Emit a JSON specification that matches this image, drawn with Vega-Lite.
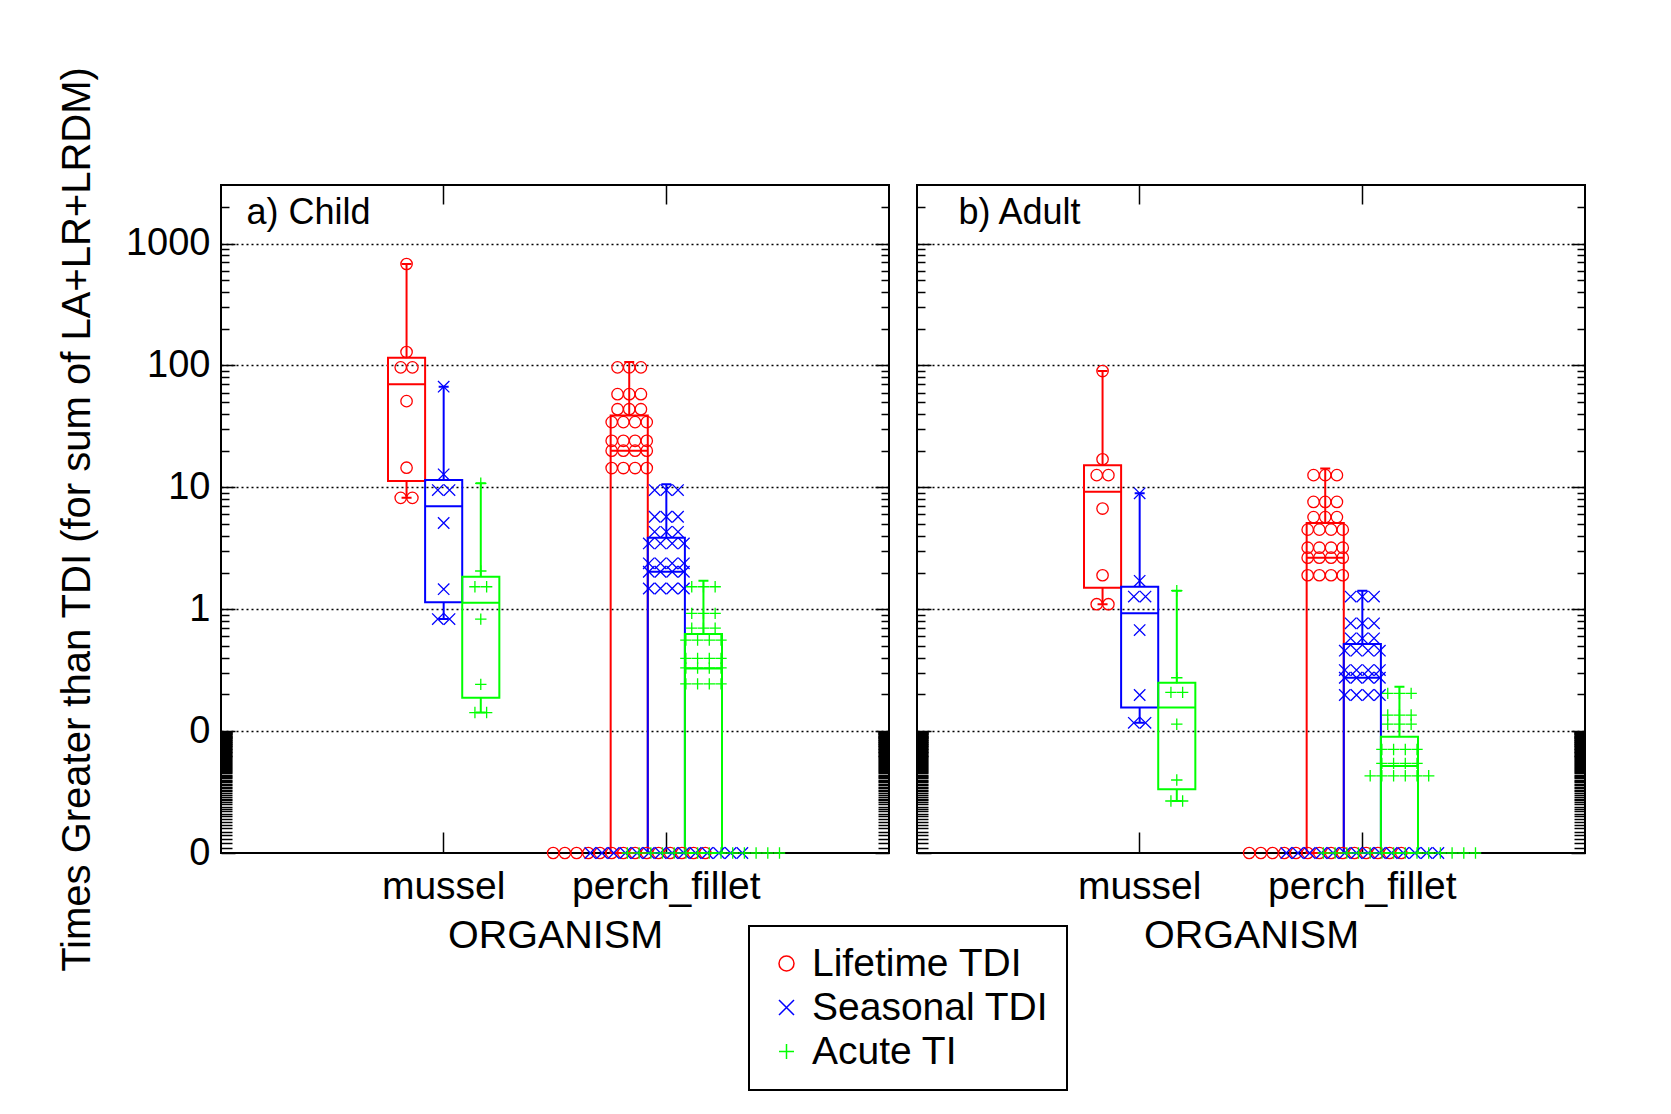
{
  "$schema": "https://vega.github.io/schema/vega-lite/v6.json",
  "padding": {"left": 56, "top": 65, "right": 5, "bottom": 5},
  "background": "white",
  "spacing": 24,
  "datasets": {
    "box": [
      {"panel":"Child","organism":"mussel","series":"Lifetime TDI","min":8.2,"q1":11.3,"median":70.3,"q3":115.6,"max":680},
      {"panel":"Child","organism":"mussel","series":"Seasonal TDI","min":0.83,"q1":1.14,"median":7.0,"q3":11.5,"max":67},
      {"panel":"Child","organism":"mussel","series":"Acute TI","min":0.142,"q1":0.188,"median":1.13,"q3":1.85,"max":10.8},
      {"panel":"Child","organism":"perch_fillet","series":"Lifetime TDI","min":0,"q1":0,"median":20.0,"q3":38.9,"max":107},
      {"panel":"Child","organism":"perch_fillet","series":"Seasonal TDI","min":0,"q1":0,"median":2.03,"q3":3.86,"max":10.6},
      {"panel":"Child","organism":"perch_fillet","series":"Acute TI","min":0,"q1":0,"median":0.327,"q3":0.627,"max":1.71},
      {"panel":"Adult","organism":"mussel","series":"Lifetime TDI","min":1.1,"q1":1.5,"median":9.2,"q3":15.2,"max":90},
      {"panel":"Adult","organism":"mussel","series":"Seasonal TDI","min":0.117,"q1":0.156,"median":0.925,"q3":1.53,"max":8.93},
      {"panel":"Adult","organism":"mussel","series":"Acute TI","min":0.0267,"q1":0.0333,"median":0.156,"q3":0.249,"max":1.42},
      {"panel":"Adult","organism":"perch_fillet","series":"Lifetime TDI","min":0,"q1":0,"median":2.65,"q3":5.1,"max":14.3},
      {"panel":"Adult","organism":"perch_fillet","series":"Seasonal TDI","min":0,"q1":0,"median":0.274,"q3":0.519,"max":1.42},
      {"panel":"Adult","organism":"perch_fillet","series":"Acute TI","min":0,"q1":0,"median":0.0518,"q3":0.090,"max":0.231}
    ],
    "pts": [
      {"panel":"Child","organism":"mussel","series":"Lifetime TDI","value":680},
      {"panel":"Child","organism":"mussel","series":"Lifetime TDI","value":129},
      {"panel":"Child","organism":"mussel","series":"Lifetime TDI","value":96.5},
      {"panel":"Child","organism":"mussel","series":"Lifetime TDI","value":96.5},
      {"panel":"Child","organism":"mussel","series":"Lifetime TDI","value":51},
      {"panel":"Child","organism":"mussel","series":"Lifetime TDI","value":14.5},
      {"panel":"Child","organism":"mussel","series":"Lifetime TDI","value":8.2},
      {"panel":"Child","organism":"mussel","series":"Lifetime TDI","value":8.2},
      {"panel":"Child","organism":"mussel","series":"Seasonal TDI","value":67},
      {"panel":"Child","organism":"mussel","series":"Seasonal TDI","value":12.8},
      {"panel":"Child","organism":"mussel","series":"Seasonal TDI","value":9.5},
      {"panel":"Child","organism":"mussel","series":"Seasonal TDI","value":9.5},
      {"panel":"Child","organism":"mussel","series":"Seasonal TDI","value":5.1},
      {"panel":"Child","organism":"mussel","series":"Seasonal TDI","value":1.46},
      {"panel":"Child","organism":"mussel","series":"Seasonal TDI","value":0.83},
      {"panel":"Child","organism":"mussel","series":"Seasonal TDI","value":0.83},
      {"panel":"Child","organism":"mussel","series":"Acute TI","value":10.8},
      {"panel":"Child","organism":"mussel","series":"Acute TI","value":2.06},
      {"panel":"Child","organism":"mussel","series":"Acute TI","value":1.53},
      {"panel":"Child","organism":"mussel","series":"Acute TI","value":1.53},
      {"panel":"Child","organism":"mussel","series":"Acute TI","value":0.83},
      {"panel":"Child","organism":"mussel","series":"Acute TI","value":0.242},
      {"panel":"Child","organism":"mussel","series":"Acute TI","value":0.142},
      {"panel":"Child","organism":"mussel","series":"Acute TI","value":0.142},
      {"panel":"Child","organism":"perch_fillet","series":"Lifetime TDI","value":96.5},
      {"panel":"Child","organism":"perch_fillet","series":"Lifetime TDI","value":96.5},
      {"panel":"Child","organism":"perch_fillet","series":"Lifetime TDI","value":96.5},
      {"panel":"Child","organism":"perch_fillet","series":"Lifetime TDI","value":58.2},
      {"panel":"Child","organism":"perch_fillet","series":"Lifetime TDI","value":58.2},
      {"panel":"Child","organism":"perch_fillet","series":"Lifetime TDI","value":58.2},
      {"panel":"Child","organism":"perch_fillet","series":"Lifetime TDI","value":43.8},
      {"panel":"Child","organism":"perch_fillet","series":"Lifetime TDI","value":43.8},
      {"panel":"Child","organism":"perch_fillet","series":"Lifetime TDI","value":43.8},
      {"panel":"Child","organism":"perch_fillet","series":"Lifetime TDI","value":34.3},
      {"panel":"Child","organism":"perch_fillet","series":"Lifetime TDI","value":34.3},
      {"panel":"Child","organism":"perch_fillet","series":"Lifetime TDI","value":34.3},
      {"panel":"Child","organism":"perch_fillet","series":"Lifetime TDI","value":34.3},
      {"panel":"Child","organism":"perch_fillet","series":"Lifetime TDI","value":24.1},
      {"panel":"Child","organism":"perch_fillet","series":"Lifetime TDI","value":24.1},
      {"panel":"Child","organism":"perch_fillet","series":"Lifetime TDI","value":24.1},
      {"panel":"Child","organism":"perch_fillet","series":"Lifetime TDI","value":24.1},
      {"panel":"Child","organism":"perch_fillet","series":"Lifetime TDI","value":20.0},
      {"panel":"Child","organism":"perch_fillet","series":"Lifetime TDI","value":20.0},
      {"panel":"Child","organism":"perch_fillet","series":"Lifetime TDI","value":20.0},
      {"panel":"Child","organism":"perch_fillet","series":"Lifetime TDI","value":20.0},
      {"panel":"Child","organism":"perch_fillet","series":"Lifetime TDI","value":14.4},
      {"panel":"Child","organism":"perch_fillet","series":"Lifetime TDI","value":14.4},
      {"panel":"Child","organism":"perch_fillet","series":"Lifetime TDI","value":14.4},
      {"panel":"Child","organism":"perch_fillet","series":"Lifetime TDI","value":14.4},
      {"panel":"Child","organism":"perch_fillet","series":"Lifetime TDI","value":0},
      {"panel":"Child","organism":"perch_fillet","series":"Lifetime TDI","value":0},
      {"panel":"Child","organism":"perch_fillet","series":"Lifetime TDI","value":0},
      {"panel":"Child","organism":"perch_fillet","series":"Lifetime TDI","value":0},
      {"panel":"Child","organism":"perch_fillet","series":"Lifetime TDI","value":0},
      {"panel":"Child","organism":"perch_fillet","series":"Lifetime TDI","value":0},
      {"panel":"Child","organism":"perch_fillet","series":"Lifetime TDI","value":0},
      {"panel":"Child","organism":"perch_fillet","series":"Lifetime TDI","value":0},
      {"panel":"Child","organism":"perch_fillet","series":"Lifetime TDI","value":0},
      {"panel":"Child","organism":"perch_fillet","series":"Lifetime TDI","value":0},
      {"panel":"Child","organism":"perch_fillet","series":"Lifetime TDI","value":0},
      {"panel":"Child","organism":"perch_fillet","series":"Lifetime TDI","value":0},
      {"panel":"Child","organism":"perch_fillet","series":"Lifetime TDI","value":0},
      {"panel":"Child","organism":"perch_fillet","series":"Lifetime TDI","value":0},
      {"panel":"Child","organism":"perch_fillet","series":"Seasonal TDI","value":9.5},
      {"panel":"Child","organism":"perch_fillet","series":"Seasonal TDI","value":9.5},
      {"panel":"Child","organism":"perch_fillet","series":"Seasonal TDI","value":9.5},
      {"panel":"Child","organism":"perch_fillet","series":"Seasonal TDI","value":5.74},
      {"panel":"Child","organism":"perch_fillet","series":"Seasonal TDI","value":5.74},
      {"panel":"Child","organism":"perch_fillet","series":"Seasonal TDI","value":5.74},
      {"panel":"Child","organism":"perch_fillet","series":"Seasonal TDI","value":4.32},
      {"panel":"Child","organism":"perch_fillet","series":"Seasonal TDI","value":4.32},
      {"panel":"Child","organism":"perch_fillet","series":"Seasonal TDI","value":4.32},
      {"panel":"Child","organism":"perch_fillet","series":"Seasonal TDI","value":3.47},
      {"panel":"Child","organism":"perch_fillet","series":"Seasonal TDI","value":3.47},
      {"panel":"Child","organism":"perch_fillet","series":"Seasonal TDI","value":3.47},
      {"panel":"Child","organism":"perch_fillet","series":"Seasonal TDI","value":3.47},
      {"panel":"Child","organism":"perch_fillet","series":"Seasonal TDI","value":2.38},
      {"panel":"Child","organism":"perch_fillet","series":"Seasonal TDI","value":2.38},
      {"panel":"Child","organism":"perch_fillet","series":"Seasonal TDI","value":2.38},
      {"panel":"Child","organism":"perch_fillet","series":"Seasonal TDI","value":2.38},
      {"panel":"Child","organism":"perch_fillet","series":"Seasonal TDI","value":2.03},
      {"panel":"Child","organism":"perch_fillet","series":"Seasonal TDI","value":2.03},
      {"panel":"Child","organism":"perch_fillet","series":"Seasonal TDI","value":2.03},
      {"panel":"Child","organism":"perch_fillet","series":"Seasonal TDI","value":2.03},
      {"panel":"Child","organism":"perch_fillet","series":"Seasonal TDI","value":1.48},
      {"panel":"Child","organism":"perch_fillet","series":"Seasonal TDI","value":1.48},
      {"panel":"Child","organism":"perch_fillet","series":"Seasonal TDI","value":1.48},
      {"panel":"Child","organism":"perch_fillet","series":"Seasonal TDI","value":1.48},
      {"panel":"Child","organism":"perch_fillet","series":"Seasonal TDI","value":0},
      {"panel":"Child","organism":"perch_fillet","series":"Seasonal TDI","value":0},
      {"panel":"Child","organism":"perch_fillet","series":"Seasonal TDI","value":0},
      {"panel":"Child","organism":"perch_fillet","series":"Seasonal TDI","value":0},
      {"panel":"Child","organism":"perch_fillet","series":"Seasonal TDI","value":0},
      {"panel":"Child","organism":"perch_fillet","series":"Seasonal TDI","value":0},
      {"panel":"Child","organism":"perch_fillet","series":"Seasonal TDI","value":0},
      {"panel":"Child","organism":"perch_fillet","series":"Seasonal TDI","value":0},
      {"panel":"Child","organism":"perch_fillet","series":"Seasonal TDI","value":0},
      {"panel":"Child","organism":"perch_fillet","series":"Seasonal TDI","value":0},
      {"panel":"Child","organism":"perch_fillet","series":"Seasonal TDI","value":0},
      {"panel":"Child","organism":"perch_fillet","series":"Seasonal TDI","value":0},
      {"panel":"Child","organism":"perch_fillet","series":"Seasonal TDI","value":0},
      {"panel":"Child","organism":"perch_fillet","series":"Seasonal TDI","value":0},
      {"panel":"Child","organism":"perch_fillet","series":"Acute TI","value":1.53},
      {"panel":"Child","organism":"perch_fillet","series":"Acute TI","value":1.53},
      {"panel":"Child","organism":"perch_fillet","series":"Acute TI","value":1.53},
      {"panel":"Child","organism":"perch_fillet","series":"Acute TI","value":0.925},
      {"panel":"Child","organism":"perch_fillet","series":"Acute TI","value":0.925},
      {"panel":"Child","organism":"perch_fillet","series":"Acute TI","value":0.925},
      {"panel":"Child","organism":"perch_fillet","series":"Acute TI","value":0.70},
      {"panel":"Child","organism":"perch_fillet","series":"Acute TI","value":0.70},
      {"panel":"Child","organism":"perch_fillet","series":"Acute TI","value":0.70},
      {"panel":"Child","organism":"perch_fillet","series":"Acute TI","value":0.559},
      {"panel":"Child","organism":"perch_fillet","series":"Acute TI","value":0.559},
      {"panel":"Child","organism":"perch_fillet","series":"Acute TI","value":0.559},
      {"panel":"Child","organism":"perch_fillet","series":"Acute TI","value":0.559},
      {"panel":"Child","organism":"perch_fillet","series":"Acute TI","value":0.395},
      {"panel":"Child","organism":"perch_fillet","series":"Acute TI","value":0.395},
      {"panel":"Child","organism":"perch_fillet","series":"Acute TI","value":0.395},
      {"panel":"Child","organism":"perch_fillet","series":"Acute TI","value":0.395},
      {"panel":"Child","organism":"perch_fillet","series":"Acute TI","value":0.33},
      {"panel":"Child","organism":"perch_fillet","series":"Acute TI","value":0.33},
      {"panel":"Child","organism":"perch_fillet","series":"Acute TI","value":0.33},
      {"panel":"Child","organism":"perch_fillet","series":"Acute TI","value":0.33},
      {"panel":"Child","organism":"perch_fillet","series":"Acute TI","value":0.244},
      {"panel":"Child","organism":"perch_fillet","series":"Acute TI","value":0.244},
      {"panel":"Child","organism":"perch_fillet","series":"Acute TI","value":0.244},
      {"panel":"Child","organism":"perch_fillet","series":"Acute TI","value":0.244},
      {"panel":"Child","organism":"perch_fillet","series":"Acute TI","value":0},
      {"panel":"Child","organism":"perch_fillet","series":"Acute TI","value":0},
      {"panel":"Child","organism":"perch_fillet","series":"Acute TI","value":0},
      {"panel":"Child","organism":"perch_fillet","series":"Acute TI","value":0},
      {"panel":"Child","organism":"perch_fillet","series":"Acute TI","value":0},
      {"panel":"Child","organism":"perch_fillet","series":"Acute TI","value":0},
      {"panel":"Child","organism":"perch_fillet","series":"Acute TI","value":0},
      {"panel":"Child","organism":"perch_fillet","series":"Acute TI","value":0},
      {"panel":"Child","organism":"perch_fillet","series":"Acute TI","value":0},
      {"panel":"Child","organism":"perch_fillet","series":"Acute TI","value":0},
      {"panel":"Child","organism":"perch_fillet","series":"Acute TI","value":0},
      {"panel":"Child","organism":"perch_fillet","series":"Acute TI","value":0},
      {"panel":"Child","organism":"perch_fillet","series":"Acute TI","value":0},
      {"panel":"Child","organism":"perch_fillet","series":"Acute TI","value":0},
      {"panel":"Adult","organism":"mussel","series":"Lifetime TDI","value":90},
      {"panel":"Adult","organism":"mussel","series":"Lifetime TDI","value":17},
      {"panel":"Adult","organism":"mussel","series":"Lifetime TDI","value":12.6},
      {"panel":"Adult","organism":"mussel","series":"Lifetime TDI","value":12.6},
      {"panel":"Adult","organism":"mussel","series":"Lifetime TDI","value":6.7},
      {"panel":"Adult","organism":"mussel","series":"Lifetime TDI","value":1.9},
      {"panel":"Adult","organism":"mussel","series":"Lifetime TDI","value":1.1},
      {"panel":"Adult","organism":"mussel","series":"Lifetime TDI","value":1.1},
      {"panel":"Adult","organism":"mussel","series":"Seasonal TDI","value":8.93},
      {"panel":"Adult","organism":"mussel","series":"Seasonal TDI","value":1.71},
      {"panel":"Adult","organism":"mussel","series":"Seasonal TDI","value":1.27},
      {"panel":"Adult","organism":"mussel","series":"Seasonal TDI","value":1.27},
      {"panel":"Adult","organism":"mussel","series":"Seasonal TDI","value":0.675},
      {"panel":"Adult","organism":"mussel","series":"Seasonal TDI","value":0.198},
      {"panel":"Adult","organism":"mussel","series":"Seasonal TDI","value":0.117},
      {"panel":"Adult","organism":"mussel","series":"Seasonal TDI","value":0.117},
      {"panel":"Adult","organism":"mussel","series":"Acute TI","value":1.42},
      {"panel":"Adult","organism":"mussel","series":"Acute TI","value":0.274},
      {"panel":"Adult","organism":"mussel","series":"Acute TI","value":0.208},
      {"panel":"Adult","organism":"mussel","series":"Acute TI","value":0.208},
      {"panel":"Adult","organism":"mussel","series":"Acute TI","value":0.114},
      {"panel":"Adult","organism":"mussel","series":"Acute TI","value":0.0397},
      {"panel":"Adult","organism":"mussel","series":"Acute TI","value":0.0267},
      {"panel":"Adult","organism":"mussel","series":"Acute TI","value":0.0267},
      {"panel":"Adult","organism":"perch_fillet","series":"Lifetime TDI","value":12.6},
      {"panel":"Adult","organism":"perch_fillet","series":"Lifetime TDI","value":12.6},
      {"panel":"Adult","organism":"perch_fillet","series":"Lifetime TDI","value":12.6},
      {"panel":"Adult","organism":"perch_fillet","series":"Lifetime TDI","value":7.6},
      {"panel":"Adult","organism":"perch_fillet","series":"Lifetime TDI","value":7.6},
      {"panel":"Adult","organism":"perch_fillet","series":"Lifetime TDI","value":7.6},
      {"panel":"Adult","organism":"perch_fillet","series":"Lifetime TDI","value":5.7},
      {"panel":"Adult","organism":"perch_fillet","series":"Lifetime TDI","value":5.7},
      {"panel":"Adult","organism":"perch_fillet","series":"Lifetime TDI","value":5.7},
      {"panel":"Adult","organism":"perch_fillet","series":"Lifetime TDI","value":4.5},
      {"panel":"Adult","organism":"perch_fillet","series":"Lifetime TDI","value":4.5},
      {"panel":"Adult","organism":"perch_fillet","series":"Lifetime TDI","value":4.5},
      {"panel":"Adult","organism":"perch_fillet","series":"Lifetime TDI","value":4.5},
      {"panel":"Adult","organism":"perch_fillet","series":"Lifetime TDI","value":3.2},
      {"panel":"Adult","organism":"perch_fillet","series":"Lifetime TDI","value":3.2},
      {"panel":"Adult","organism":"perch_fillet","series":"Lifetime TDI","value":3.2},
      {"panel":"Adult","organism":"perch_fillet","series":"Lifetime TDI","value":3.2},
      {"panel":"Adult","organism":"perch_fillet","series":"Lifetime TDI","value":2.65},
      {"panel":"Adult","organism":"perch_fillet","series":"Lifetime TDI","value":2.65},
      {"panel":"Adult","organism":"perch_fillet","series":"Lifetime TDI","value":2.65},
      {"panel":"Adult","organism":"perch_fillet","series":"Lifetime TDI","value":2.65},
      {"panel":"Adult","organism":"perch_fillet","series":"Lifetime TDI","value":1.9},
      {"panel":"Adult","organism":"perch_fillet","series":"Lifetime TDI","value":1.9},
      {"panel":"Adult","organism":"perch_fillet","series":"Lifetime TDI","value":1.9},
      {"panel":"Adult","organism":"perch_fillet","series":"Lifetime TDI","value":1.9},
      {"panel":"Adult","organism":"perch_fillet","series":"Lifetime TDI","value":0},
      {"panel":"Adult","organism":"perch_fillet","series":"Lifetime TDI","value":0},
      {"panel":"Adult","organism":"perch_fillet","series":"Lifetime TDI","value":0},
      {"panel":"Adult","organism":"perch_fillet","series":"Lifetime TDI","value":0},
      {"panel":"Adult","organism":"perch_fillet","series":"Lifetime TDI","value":0},
      {"panel":"Adult","organism":"perch_fillet","series":"Lifetime TDI","value":0},
      {"panel":"Adult","organism":"perch_fillet","series":"Lifetime TDI","value":0},
      {"panel":"Adult","organism":"perch_fillet","series":"Lifetime TDI","value":0},
      {"panel":"Adult","organism":"perch_fillet","series":"Lifetime TDI","value":0},
      {"panel":"Adult","organism":"perch_fillet","series":"Lifetime TDI","value":0},
      {"panel":"Adult","organism":"perch_fillet","series":"Lifetime TDI","value":0},
      {"panel":"Adult","organism":"perch_fillet","series":"Lifetime TDI","value":0},
      {"panel":"Adult","organism":"perch_fillet","series":"Lifetime TDI","value":0},
      {"panel":"Adult","organism":"perch_fillet","series":"Lifetime TDI","value":0},
      {"panel":"Adult","organism":"perch_fillet","series":"Seasonal TDI","value":1.27},
      {"panel":"Adult","organism":"perch_fillet","series":"Seasonal TDI","value":1.27},
      {"panel":"Adult","organism":"perch_fillet","series":"Seasonal TDI","value":1.27},
      {"panel":"Adult","organism":"perch_fillet","series":"Seasonal TDI","value":0.766},
      {"panel":"Adult","organism":"perch_fillet","series":"Seasonal TDI","value":0.766},
      {"panel":"Adult","organism":"perch_fillet","series":"Seasonal TDI","value":0.766},
      {"panel":"Adult","organism":"perch_fillet","series":"Seasonal TDI","value":0.577},
      {"panel":"Adult","organism":"perch_fillet","series":"Seasonal TDI","value":0.577},
      {"panel":"Adult","organism":"perch_fillet","series":"Seasonal TDI","value":0.577},
      {"panel":"Adult","organism":"perch_fillet","series":"Seasonal TDI","value":0.457},
      {"panel":"Adult","organism":"perch_fillet","series":"Seasonal TDI","value":0.457},
      {"panel":"Adult","organism":"perch_fillet","series":"Seasonal TDI","value":0.457},
      {"panel":"Adult","organism":"perch_fillet","series":"Seasonal TDI","value":0.457},
      {"panel":"Adult","organism":"perch_fillet","series":"Seasonal TDI","value":0.317},
      {"panel":"Adult","organism":"perch_fillet","series":"Seasonal TDI","value":0.317},
      {"panel":"Adult","organism":"perch_fillet","series":"Seasonal TDI","value":0.317},
      {"panel":"Adult","organism":"perch_fillet","series":"Seasonal TDI","value":0.317},
      {"panel":"Adult","organism":"perch_fillet","series":"Seasonal TDI","value":0.274},
      {"panel":"Adult","organism":"perch_fillet","series":"Seasonal TDI","value":0.274},
      {"panel":"Adult","organism":"perch_fillet","series":"Seasonal TDI","value":0.274},
      {"panel":"Adult","organism":"perch_fillet","series":"Seasonal TDI","value":0.274},
      {"panel":"Adult","organism":"perch_fillet","series":"Seasonal TDI","value":0.198},
      {"panel":"Adult","organism":"perch_fillet","series":"Seasonal TDI","value":0.198},
      {"panel":"Adult","organism":"perch_fillet","series":"Seasonal TDI","value":0.198},
      {"panel":"Adult","organism":"perch_fillet","series":"Seasonal TDI","value":0.198},
      {"panel":"Adult","organism":"perch_fillet","series":"Seasonal TDI","value":0},
      {"panel":"Adult","organism":"perch_fillet","series":"Seasonal TDI","value":0},
      {"panel":"Adult","organism":"perch_fillet","series":"Seasonal TDI","value":0},
      {"panel":"Adult","organism":"perch_fillet","series":"Seasonal TDI","value":0},
      {"panel":"Adult","organism":"perch_fillet","series":"Seasonal TDI","value":0},
      {"panel":"Adult","organism":"perch_fillet","series":"Seasonal TDI","value":0},
      {"panel":"Adult","organism":"perch_fillet","series":"Seasonal TDI","value":0},
      {"panel":"Adult","organism":"perch_fillet","series":"Seasonal TDI","value":0},
      {"panel":"Adult","organism":"perch_fillet","series":"Seasonal TDI","value":0},
      {"panel":"Adult","organism":"perch_fillet","series":"Seasonal TDI","value":0},
      {"panel":"Adult","organism":"perch_fillet","series":"Seasonal TDI","value":0},
      {"panel":"Adult","organism":"perch_fillet","series":"Seasonal TDI","value":0},
      {"panel":"Adult","organism":"perch_fillet","series":"Seasonal TDI","value":0},
      {"panel":"Adult","organism":"perch_fillet","series":"Seasonal TDI","value":0},
      {"panel":"Adult","organism":"perch_fillet","series":"Acute TI","value":0.204},
      {"panel":"Adult","organism":"perch_fillet","series":"Acute TI","value":0.204},
      {"panel":"Adult","organism":"perch_fillet","series":"Acute TI","value":0.204},
      {"panel":"Adult","organism":"perch_fillet","series":"Acute TI","value":0.1355},
      {"panel":"Adult","organism":"perch_fillet","series":"Acute TI","value":0.1355},
      {"panel":"Adult","organism":"perch_fillet","series":"Acute TI","value":0.1355},
      {"panel":"Adult","organism":"perch_fillet","series":"Acute TI","value":0.114},
      {"panel":"Adult","organism":"perch_fillet","series":"Acute TI","value":0.114},
      {"panel":"Adult","organism":"perch_fillet","series":"Acute TI","value":0.114},
      {"panel":"Adult","organism":"perch_fillet","series":"Acute TI","value":0.0707},
      {"panel":"Adult","organism":"perch_fillet","series":"Acute TI","value":0.0707},
      {"panel":"Adult","organism":"perch_fillet","series":"Acute TI","value":0.0707},
      {"panel":"Adult","organism":"perch_fillet","series":"Acute TI","value":0.0707},
      {"panel":"Adult","organism":"perch_fillet","series":"Acute TI","value":0.0544},
      {"panel":"Adult","organism":"perch_fillet","series":"Acute TI","value":0.0544},
      {"panel":"Adult","organism":"perch_fillet","series":"Acute TI","value":0.0544},
      {"panel":"Adult","organism":"perch_fillet","series":"Acute TI","value":0.0544},
      {"panel":"Adult","organism":"perch_fillet","series":"Acute TI","value":0.043},
      {"panel":"Adult","organism":"perch_fillet","series":"Acute TI","value":0.043},
      {"panel":"Adult","organism":"perch_fillet","series":"Acute TI","value":0.043},
      {"panel":"Adult","organism":"perch_fillet","series":"Acute TI","value":0.043},
      {"panel":"Adult","organism":"perch_fillet","series":"Acute TI","value":0.043},
      {"panel":"Adult","organism":"perch_fillet","series":"Acute TI","value":0.043},
      {"panel":"Adult","organism":"perch_fillet","series":"Acute TI","value":0},
      {"panel":"Adult","organism":"perch_fillet","series":"Acute TI","value":0},
      {"panel":"Adult","organism":"perch_fillet","series":"Acute TI","value":0},
      {"panel":"Adult","organism":"perch_fillet","series":"Acute TI","value":0},
      {"panel":"Adult","organism":"perch_fillet","series":"Acute TI","value":0},
      {"panel":"Adult","organism":"perch_fillet","series":"Acute TI","value":0},
      {"panel":"Adult","organism":"perch_fillet","series":"Acute TI","value":0},
      {"panel":"Adult","organism":"perch_fillet","series":"Acute TI","value":0},
      {"panel":"Adult","organism":"perch_fillet","series":"Acute TI","value":0},
      {"panel":"Adult","organism":"perch_fillet","series":"Acute TI","value":0},
      {"panel":"Adult","organism":"perch_fillet","series":"Acute TI","value":0},
      {"panel":"Adult","organism":"perch_fillet","series":"Acute TI","value":0},
      {"panel":"Adult","organism":"perch_fillet","series":"Acute TI","value":0},
      {"panel":"Adult","organism":"perch_fillet","series":"Acute TI","value":0}
    ]
  },
  "resolve": {"scale": {"color": "shared", "shape": "shared"}, "legend": {"color": "shared", "shape": "shared"}},
  "hconcat": [
    {
      "width": 668, "height": 668,
      "resolve": {"axis": {"x": "independent", "y": "independent"}, "scale": {"xOffset": "independent"}},
      "layer": [
        {
          "data": {"name": "box"},
          "transform": [{"filter": "datum.panel == 'Child'"}, {"calculate": "datum.organism + '|' + datum.series", "as": "cat"}],
          "mark": {"type": "bar", "filled": false, "strokeWidth": 2},
          "encoding": {
            "x": {"field": "cat", "type": "nominal",
                  "scale": {"domain": ["l1","l2","l3","l4","mussel|Lifetime TDI","mussel|Seasonal TDI","mussel|Acute TI","s1","s2","s3","perch_fillet|Lifetime TDI","perch_fillet|Seasonal TDI","perch_fillet|Acute TI","r1","r2","r3","r4"], "paddingInner": 0, "paddingOuter": 0.5},
                  "axis": {"orient": "bottom", "values": ["mussel|Seasonal TDI","perch_fillet|Seasonal TDI"], "labelExpr": "datum.value == 'mussel|Seasonal TDI' ? 'mussel' : 'perch_fillet'", "tickSize": -21, "labelPadding": 35, "labelAngle": 0, "labelFontSize": 39, "labelLimit": 0, "title": "ORGANISM", "titleFontSize": 39.5, "titlePadding": 10, "domain": false, "grid": false}},
            "y": {"field": "q1", "type": "quantitative",
                  "scale": {"type": "log", "domain": [0.01, 3026], "clamp": true, "nice": false},
                  "axis": {"orient": "left", "title": "Times Greater than TDI (for sum of LA+LR+LRDM)", "titleFontSize": 40, "titlePadding": 28,
                           "values": [0.01,0.011,0.012,0.013,0.014,0.015,0.016,0.017,0.018,0.019,0.02,0.021,0.022,0.023,0.024,0.025,0.026,0.027,0.028,0.029,0.03,0.031,0.032,0.033,0.034,0.035,0.036,0.037,0.038,0.039,0.04,0.041,0.042,0.043,0.044,0.045,0.046,0.047,0.048,0.049,0.05,0.051,0.052,0.053,0.054,0.055,0.056,0.057,0.058,0.059,0.06,0.061,0.062,0.063,0.064,0.065,0.066,0.067,0.068,0.069,0.07,0.071,0.072,0.073,0.074,0.075,0.076,0.077,0.078,0.079,0.08,0.081,0.082,0.083,0.084,0.085,0.086,0.087,0.088,0.089,0.09,0.091,0.092,0.093,0.094,0.095,0.096,0.097,0.098,0.099,0.1,0.2,0.3,0.4,0.5,0.6,0.7,0.8,0.9,1,2,3,4,5,6,7,8,9,10,20,30,40,50,60,70,80,90,100,200,300,400,500,600,700,800,900,1000,2000],
                           "labelExpr": "datum.value == 1000 ? '1000' : datum.value == 100 ? '100' : datum.value == 10 ? '10' : datum.value == 1 ? '1' : (datum.value == 0.1 || datum.value == 0.01) ? '0' : ''",
                           "tickSize": {"condition": [{"test": "indexof([0.01,0.1,1,10,100,1000], datum.value) >= 0", "value": -14}, {"test": "datum.value < 0.1", "value": -11}], "value": -8},
                           "labelPadding": 25, "labelFontSize": 38, "grid": true,
                           "gridOpacity": {"condition": {"test": "indexof([0.1,1,10,100,1000], datum.value) >= 0", "value": 1}, "value": 0},
                           "domain": false, "labelOverlap": false}},
            "y2": {"field": "q3"},
            "color": {"field": "series", "type": "nominal", "scale": {"domain": ["Lifetime TDI","Seasonal TDI","Acute TI"], "range": ["#FF0000","#0000FF","#00FF00"]}}
          }
        },
        {
          "data": {"name": "box"},
          "transform": [{"filter": "datum.panel == 'Child'"}, {"calculate": "datum.organism + '|' + datum.series", "as": "cat"}],
          "mark": {"type": "bar", "filled": false, "strokeWidth": 2},
          "encoding": {
            "x": {"field": "cat", "type": "nominal", "axis": null},
            "y": {"field": "median", "type": "quantitative", "axis": null},
            "y2": {"field": "median"},
            "color": {"field": "series", "type": "nominal"}
          }
        },
        {
          "data": {"name": "box"},
          "transform": [{"filter": "datum.panel == 'Child'"}, {"calculate": "datum.organism + '|' + datum.series", "as": "cat"}],
          "mark": {"type": "rule", "strokeWidth": 2},
          "encoding": {
            "x": {"field": "cat", "type": "nominal", "axis": null},
            "y": {"field": "q3", "type": "quantitative", "axis": null},
            "y2": {"field": "max"},
            "color": {"field": "series", "type": "nominal"}
          }
        },
        {
          "data": {"name": "box"},
          "transform": [{"filter": "datum.panel == 'Child'"}, {"calculate": "datum.organism + '|' + datum.series", "as": "cat"}],
          "mark": {"type": "rule", "strokeWidth": 2},
          "encoding": {
            "x": {"field": "cat", "type": "nominal", "axis": null},
            "y": {"field": "min", "type": "quantitative", "axis": null},
            "y2": {"field": "q1"},
            "color": {"field": "series", "type": "nominal"}
          }
        },
        {
          "data": {"name": "box"},
          "transform": [{"filter": "datum.panel == 'Child'"}, {"calculate": "datum.organism + '|' + datum.series", "as": "cat"}],
          "mark": {"type": "bar", "filled": false, "strokeWidth": 2, "width": 10},
          "encoding": {
            "x": {"field": "cat", "type": "nominal", "axis": null},
            "y": {"field": "max", "type": "quantitative", "axis": null},
            "y2": {"field": "max"},
            "color": {"field": "series", "type": "nominal"}
          }
        },
        {
          "data": {"name": "box"},
          "transform": [{"filter": "datum.panel == 'Child'"}, {"calculate": "datum.organism + '|' + datum.series", "as": "cat"}],
          "mark": {"type": "bar", "filled": false, "strokeWidth": 2, "width": 10},
          "encoding": {
            "x": {"field": "cat", "type": "nominal", "axis": null},
            "y": {"field": "min", "type": "quantitative", "axis": null},
            "y2": {"field": "min"},
            "color": {"field": "series", "type": "nominal"}
          }
        },
        {
          "data": {"name": "pts"},
          "transform": [
            {"filter": "datum.panel == 'Child'"},
            {"calculate": "datum.organism + '|' + datum.series", "as": "cat"},
            {"window": [{"op": "row_number", "as": "idx"}, {"op": "count", "as": "n"}], "groupby": ["organism", "series", "value"], "frame": [null, null]},
            {"calculate": "datum.idx - (datum.n + 1) / 2", "as": "off"}
          ],
          "mark": {"type": "point", "filled": false, "size": 130, "strokeWidth": 1.3, "opacity": 1},
          "encoding": {
            "x": {"field": "cat", "type": "nominal", "axis": {"orient": "top", "values": ["mussel|Seasonal TDI","perch_fillet|Seasonal TDI"], "tickSize": -19, "labels": false, "domain": false, "grid": false,
                  "title": "a) Child", "titleX": 25, "titleY": 38, "titleAlign": "left", "titleBaseline": "alphabetic", "titleAngle": 0, "titleFontSize": 36, "titlePadding": 0}},
            "xOffset": {"field": "off", "type": "quantitative", "scale": {"domain": [-1.586, 1.586], "zero": false, "nice": false}},
            "y": {"field": "value", "type": "quantitative",
                  "axis": {"orient": "right", "title": null, "labels": false, "grid": false, "domain": false,
                           "values": [0.01,0.011,0.012,0.013,0.014,0.015,0.016,0.017,0.018,0.019,0.02,0.021,0.022,0.023,0.024,0.025,0.026,0.027,0.028,0.029,0.03,0.031,0.032,0.033,0.034,0.035,0.036,0.037,0.038,0.039,0.04,0.041,0.042,0.043,0.044,0.045,0.046,0.047,0.048,0.049,0.05,0.051,0.052,0.053,0.054,0.055,0.056,0.057,0.058,0.059,0.06,0.061,0.062,0.063,0.064,0.065,0.066,0.067,0.068,0.069,0.07,0.071,0.072,0.073,0.074,0.075,0.076,0.077,0.078,0.079,0.08,0.081,0.082,0.083,0.084,0.085,0.086,0.087,0.088,0.089,0.09,0.091,0.092,0.093,0.094,0.095,0.096,0.097,0.098,0.099,0.1,0.2,0.3,0.4,0.5,0.6,0.7,0.8,0.9,1,2,3,4,5,6,7,8,9,10,20,30,40,50,60,70,80,90,100,200,300,400,500,600,700,800,900,1000,2000],
                           "tickSize": {"condition": [{"test": "indexof([0.01,0.1,1,10,100,1000], datum.value) >= 0", "value": -14}, {"test": "datum.value < 0.1", "value": -11}], "value": -8}}},
            "color": {"field": "series", "type": "nominal", "scale": {"domain": ["Lifetime TDI","Seasonal TDI","Acute TI"], "range": ["#FF0000","#0000FF","#00FF00"]},
                      "legend": {"title": null, "orient": "none", "legendX": 528, "legendY": 741}},
            "shape": {"field": "series", "type": "nominal", "scale": {"domain": ["Lifetime TDI","Seasonal TDI","Acute TI"], "range": ["circle", "M-1,-1L1,1M1,-1L-1,1", "M-1,0L1,0M0,-1L0,1"]},
                      "legend": {"title": null, "orient": "none", "legendX": 528, "legendY": 741}}
          }
        }
      ]
    },
    {
      "width": 668, "height": 668,
      "resolve": {"axis": {"x": "independent", "y": "independent"}, "scale": {"xOffset": "independent"}},
      "layer": [
        {
          "data": {"name": "box"},
          "transform": [{"filter": "datum.panel == 'Adult'"}, {"calculate": "datum.organism + '|' + datum.series", "as": "cat"}],
          "mark": {"type": "bar", "filled": false, "strokeWidth": 2},
          "encoding": {
            "x": {"field": "cat", "type": "nominal",
                  "scale": {"domain": ["l1","l2","l3","l4","mussel|Lifetime TDI","mussel|Seasonal TDI","mussel|Acute TI","s1","s2","s3","perch_fillet|Lifetime TDI","perch_fillet|Seasonal TDI","perch_fillet|Acute TI","r1","r2","r3","r4"], "paddingInner": 0, "paddingOuter": 0.5},
                  "axis": {"orient": "bottom", "values": ["mussel|Seasonal TDI","perch_fillet|Seasonal TDI"], "labelExpr": "datum.value == 'mussel|Seasonal TDI' ? 'mussel' : 'perch_fillet'", "tickSize": -21, "labelPadding": 35, "labelAngle": 0, "labelFontSize": 39, "labelLimit": 0, "title": "ORGANISM", "titleFontSize": 39.5, "titlePadding": 10, "domain": false, "grid": false}},
            "y": {"field": "q1", "type": "quantitative",
                  "scale": {"type": "log", "domain": [0.01, 3026], "clamp": true, "nice": false},
                  "axis": {"orient": "left", "title": null, "labels": false,
                           "values": [0.01,0.011,0.012,0.013,0.014,0.015,0.016,0.017,0.018,0.019,0.02,0.021,0.022,0.023,0.024,0.025,0.026,0.027,0.028,0.029,0.03,0.031,0.032,0.033,0.034,0.035,0.036,0.037,0.038,0.039,0.04,0.041,0.042,0.043,0.044,0.045,0.046,0.047,0.048,0.049,0.05,0.051,0.052,0.053,0.054,0.055,0.056,0.057,0.058,0.059,0.06,0.061,0.062,0.063,0.064,0.065,0.066,0.067,0.068,0.069,0.07,0.071,0.072,0.073,0.074,0.075,0.076,0.077,0.078,0.079,0.08,0.081,0.082,0.083,0.084,0.085,0.086,0.087,0.088,0.089,0.09,0.091,0.092,0.093,0.094,0.095,0.096,0.097,0.098,0.099,0.1,0.2,0.3,0.4,0.5,0.6,0.7,0.8,0.9,1,2,3,4,5,6,7,8,9,10,20,30,40,50,60,70,80,90,100,200,300,400,500,600,700,800,900,1000,2000],
                           "tickSize": {"condition": [{"test": "indexof([0.01,0.1,1,10,100,1000], datum.value) >= 0", "value": -14}, {"test": "datum.value < 0.1", "value": -11}], "value": -8},
                           "grid": true,
                           "gridOpacity": {"condition": {"test": "indexof([0.1,1,10,100,1000], datum.value) >= 0", "value": 1}, "value": 0},
                           "domain": false}},
            "y2": {"field": "q3"},
            "color": {"field": "series", "type": "nominal", "scale": {"domain": ["Lifetime TDI","Seasonal TDI","Acute TI"], "range": ["#FF0000","#0000FF","#00FF00"]}}
          }
        },
        {
          "data": {"name": "box"},
          "transform": [{"filter": "datum.panel == 'Adult'"}, {"calculate": "datum.organism + '|' + datum.series", "as": "cat"}],
          "mark": {"type": "bar", "filled": false, "strokeWidth": 2},
          "encoding": {
            "x": {"field": "cat", "type": "nominal", "axis": null},
            "y": {"field": "median", "type": "quantitative", "axis": null},
            "y2": {"field": "median"},
            "color": {"field": "series", "type": "nominal"}
          }
        },
        {
          "data": {"name": "box"},
          "transform": [{"filter": "datum.panel == 'Adult'"}, {"calculate": "datum.organism + '|' + datum.series", "as": "cat"}],
          "mark": {"type": "rule", "strokeWidth": 2},
          "encoding": {
            "x": {"field": "cat", "type": "nominal", "axis": null},
            "y": {"field": "q3", "type": "quantitative", "axis": null},
            "y2": {"field": "max"},
            "color": {"field": "series", "type": "nominal"}
          }
        },
        {
          "data": {"name": "box"},
          "transform": [{"filter": "datum.panel == 'Adult'"}, {"calculate": "datum.organism + '|' + datum.series", "as": "cat"}],
          "mark": {"type": "rule", "strokeWidth": 2},
          "encoding": {
            "x": {"field": "cat", "type": "nominal", "axis": null},
            "y": {"field": "min", "type": "quantitative", "axis": null},
            "y2": {"field": "q1"},
            "color": {"field": "series", "type": "nominal"}
          }
        },
        {
          "data": {"name": "box"},
          "transform": [{"filter": "datum.panel == 'Adult'"}, {"calculate": "datum.organism + '|' + datum.series", "as": "cat"}],
          "mark": {"type": "bar", "filled": false, "strokeWidth": 2, "width": 10},
          "encoding": {
            "x": {"field": "cat", "type": "nominal", "axis": null},
            "y": {"field": "max", "type": "quantitative", "axis": null},
            "y2": {"field": "max"},
            "color": {"field": "series", "type": "nominal"}
          }
        },
        {
          "data": {"name": "box"},
          "transform": [{"filter": "datum.panel == 'Adult'"}, {"calculate": "datum.organism + '|' + datum.series", "as": "cat"}],
          "mark": {"type": "bar", "filled": false, "strokeWidth": 2, "width": 10},
          "encoding": {
            "x": {"field": "cat", "type": "nominal", "axis": null},
            "y": {"field": "min", "type": "quantitative", "axis": null},
            "y2": {"field": "min"},
            "color": {"field": "series", "type": "nominal"}
          }
        },
        {
          "data": {"name": "pts"},
          "transform": [
            {"filter": "datum.panel == 'Adult'"},
            {"calculate": "datum.organism + '|' + datum.series", "as": "cat"},
            {"window": [{"op": "row_number", "as": "idx"}, {"op": "count", "as": "n"}], "groupby": ["organism", "series", "value"], "frame": [null, null]},
            {"calculate": "datum.idx - (datum.n + 1) / 2", "as": "off"}
          ],
          "mark": {"type": "point", "filled": false, "size": 130, "strokeWidth": 1.3, "opacity": 1},
          "encoding": {
            "x": {"field": "cat", "type": "nominal", "axis": {"orient": "top", "values": ["mussel|Seasonal TDI","perch_fillet|Seasonal TDI"], "tickSize": -19, "labels": false, "domain": false, "grid": false,
                  "title": "b) Adult", "titleX": 41, "titleY": 38, "titleAlign": "left", "titleBaseline": "alphabetic", "titleAngle": 0, "titleFontSize": 36, "titlePadding": 0}},
            "xOffset": {"field": "off", "type": "quantitative", "scale": {"domain": [-1.586, 1.586], "zero": false, "nice": false}},
            "y": {"field": "value", "type": "quantitative",
                  "axis": {"orient": "right", "title": null, "labels": false, "grid": false, "domain": false,
                           "values": [0.01,0.011,0.012,0.013,0.014,0.015,0.016,0.017,0.018,0.019,0.02,0.021,0.022,0.023,0.024,0.025,0.026,0.027,0.028,0.029,0.03,0.031,0.032,0.033,0.034,0.035,0.036,0.037,0.038,0.039,0.04,0.041,0.042,0.043,0.044,0.045,0.046,0.047,0.048,0.049,0.05,0.051,0.052,0.053,0.054,0.055,0.056,0.057,0.058,0.059,0.06,0.061,0.062,0.063,0.064,0.065,0.066,0.067,0.068,0.069,0.07,0.071,0.072,0.073,0.074,0.075,0.076,0.077,0.078,0.079,0.08,0.081,0.082,0.083,0.084,0.085,0.086,0.087,0.088,0.089,0.09,0.091,0.092,0.093,0.094,0.095,0.096,0.097,0.098,0.099,0.1,0.2,0.3,0.4,0.5,0.6,0.7,0.8,0.9,1,2,3,4,5,6,7,8,9,10,20,30,40,50,60,70,80,90,100,200,300,400,500,600,700,800,900,1000,2000],
                           "tickSize": {"condition": [{"test": "indexof([0.01,0.1,1,10,100,1000], datum.value) >= 0", "value": -14}, {"test": "datum.value < 0.1", "value": -11}], "value": -8}}},
            "color": {"field": "series", "type": "nominal", "scale": {"domain": ["Lifetime TDI","Seasonal TDI","Acute TI"], "range": ["#FF0000","#0000FF","#00FF00"]},
                      "legend": {"title": null, "orient": "none", "legendX": 528, "legendY": 741}},
            "shape": {"field": "series", "type": "nominal", "scale": {"domain": ["Lifetime TDI","Seasonal TDI","Acute TI"], "range": ["circle", "M-1,-1L1,1M1,-1L-1,1", "M-1,0L1,0M0,-1L0,1"]},
                      "legend": {"title": null, "orient": "none", "legendX": 528, "legendY": 741}}
          }
        }
      ]
    }
  ],
  "config": {
    "font": "Liberation Sans",
    "view": {"stroke": "black", "strokeWidth": 2},
    "axis": {"labelFont": "Liberation Sans", "titleFont": "Liberation Sans", "labelColor": "black", "titleColor": "black", "tickColor": "black", "tickWidth": 1.5, "gridColor": "black", "gridDash": [2, 3], "gridWidth": 1.5, "titleFontWeight": "normal", "minExtent": 0, "labelOverlap": false},
    "legend": {"labelFont": "Liberation Sans", "labelFontSize": 39, "labelColor": "black", "strokeColor": "black", "strokeWidth": 2, "fillColor": "white", "padding": 18, "symbolSize": 225, "symbolStrokeWidth": 1.5, "labelOffset": 6, "rowPadding": 4, "labelLimit": 0}
  }
}
